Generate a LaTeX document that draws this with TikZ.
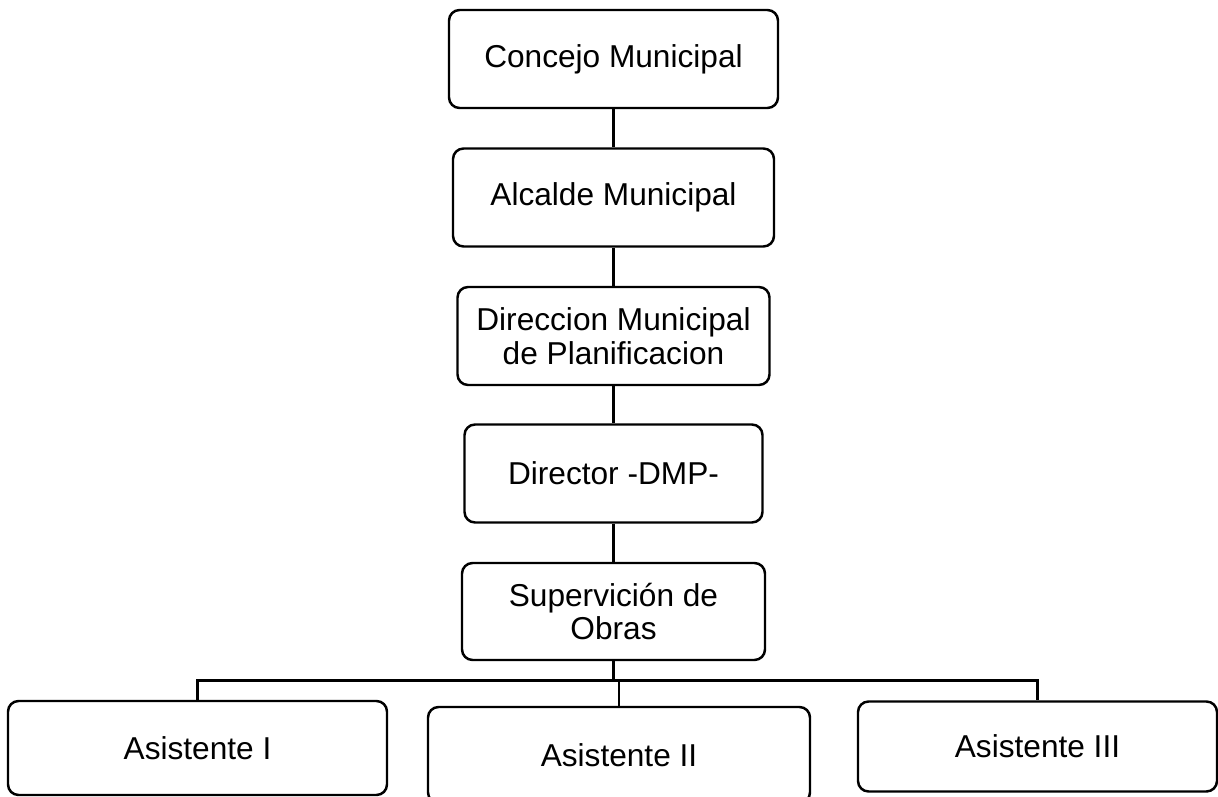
\documentclass[tikz,border=0pt]{standalone}
\usepackage{fontspec}
\setmainfont{Liberation Sans}

\begin{document}
\begin{tikzpicture}%
        [box/.style={draw=black,line width=1.4pt,rounded corners=6pt,fill=white,
                     align=center,inner sep=2pt,
                     font=\fontsize{18}{19}\selectfont},
        link/.style={draw=black,line width=1.4pt}]

    %% Page frame
    \useasboundingbox (0,0) rectangle (24.36,-15.94);
    \clip (0,0) rectangle (24.36,-15.94);
    %%
    %% Drawing the boxes
    %%
    \node[box,minimum width=6.58cm,minimum height=1.96cm] (concejo) at (12.27,-1.18) {Concejo Municipal};
    \node[box,minimum width=6.42cm,minimum height=1.96cm] (alcalde) at (12.27,-3.95) {Alcalde Municipal};
    \node[box,minimum width=6.24cm,minimum height=1.96cm] (direccion) at (12.27,-6.72) {Direccion Municipal\\de Planificacion};
    \node[box,minimum width=5.96cm,minimum height=1.96cm] (director) at (12.27,-9.47) {Director -DMP-};
    \node[box,minimum width=6.06cm,minimum height=1.94cm] (supervision) at (12.27,-12.23) {Supervición de\\Obras};
    \node[box,minimum width=7.58cm,minimum height=1.88cm] (asis1) at (3.95,-14.96) {Asistente I};
    \node[box,minimum width=7.64cm,minimum height=1.92cm] (asis2) at (12.38,-15.10) {Asistente II};
    \node[box,minimum width=7.18cm,minimum height=1.80cm] (asis3) at (20.75,-14.93) {Asistente III};
    %%
    %% Drawing the connectors
    %%
    \coordinate (bus) at (12.27,-13.61);
    \draw[link] (concejo) -- (alcalde);
    \draw[link] (alcalde) -- (direccion);
    \draw[link] (direccion) -- (director);
    \draw[link] (director) -- (supervision);
    \draw[link] (supervision) -- (bus);
    \draw[link] (asis1.north) |- (bus) -| (asis3.north);
    \draw[link] (asis2.north) -- (asis2.north |- bus);
    %%
    %%
    \end{tikzpicture}
\end{document}
